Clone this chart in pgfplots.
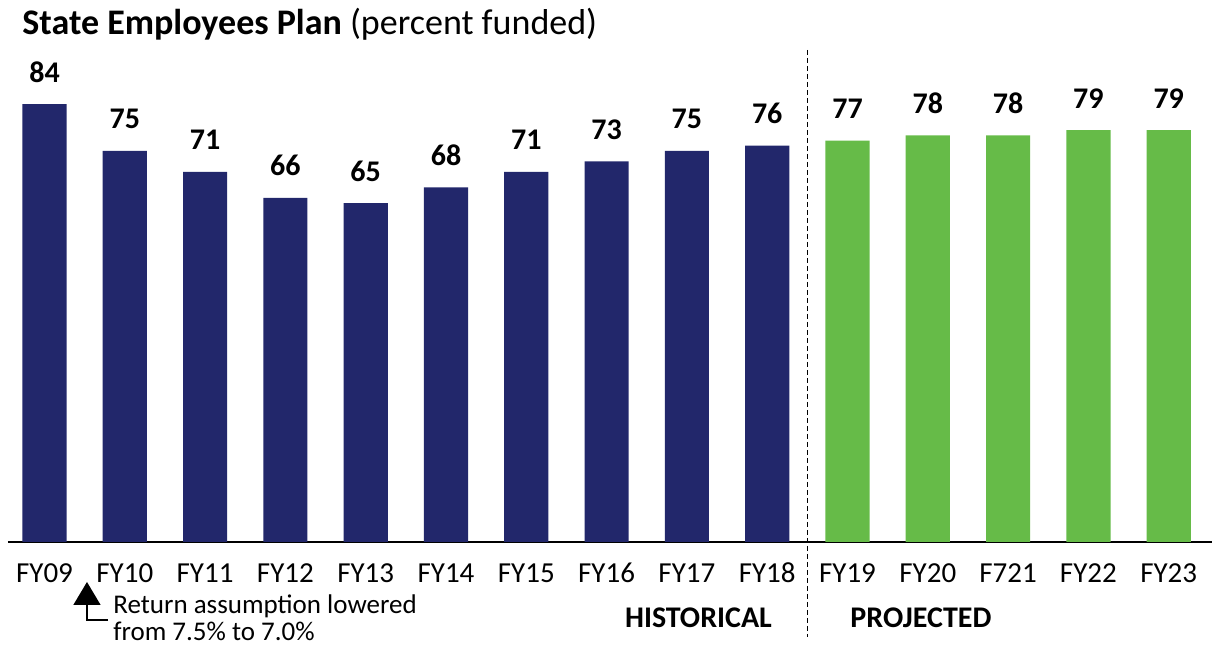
\documentclass[border=0pt]{standalone}
\usepackage{pgfplots}
\pgfplotsset{compat=1.18}
\usepackage{fontspec}
\setmainfont{Carlito}
\usetikzlibrary{arrows.meta}
\definecolor{navy}{HTML}{22276B}
\definecolor{leaf}{HTML}{66BB48}
\begin{document}
\begin{tikzpicture}
\begin{axis}[
  at={(0pt,0pt)}, anchor=south west,
  scale only axis, width=602pt, height=271pt,
  xmin=-0.4545, xmax=14.539, ymin=0, ymax=103.95,
  clip=false,
  hide y axis,
  axis x line*=bottom,
  x axis line style={line width=1pt, -},
  xtick={0,...,14},
  xticklabels={FY09,FY10,FY11,FY12,FY13,FY14,FY15,FY16,FY17,FY18,FY19,FY20,F721,FY22,FY23},
  major tick length=0pt,
  xticklabel style={font=\fontsize{14.5}{14.5}\selectfont, anchor=base, yshift=-20.5pt},
  ybar, bar width=0.55,
  nodes near coords,
  every node near coord/.append style={font=\bfseries\fontsize{15}{15}\selectfont, anchor=base, yshift=11pt, text=black},
  /pgf/number format/assume math mode=true,
]
\addplot[fill=navy, draw=none, bar shift=0pt] coordinates {(0,84) (1,75) (2,71) (3,66) (4,65) (5,68) (6,71) (7,73) (8,75) (9,76)};
\addplot[fill=leaf, draw=none, bar shift=0pt] coordinates {(10,77) (11,78) (12,78) (13,79) (14,79)};
\draw[dash pattern=on 2.5pt off 1.5pt, line width=0.8pt] (axis cs:9.5,94.4) -- (axis cs:9.5,-18.2);
\draw[line width=0.75pt, -{Triangle[length=11.5pt,width=13.5pt]}] (axis cs:0.791,-14.96) -- (axis cs:0.529,-14.96) -- (axis cs:0.529,-7.67);
\node[anchor=base west, inner sep=0, font=\fontsize{13.5}{13.5}\selectfont] at (axis cs:0.853,-13.81) {Return assumption lowered};
\node[anchor=base west, inner sep=0, font=\fontsize{13.5}{13.5}\selectfont] at (axis cs:0.853,-18.8) {from 7.5\% to 7.0\%};
\node[anchor=base, inner sep=0, font=\bfseries\fontsize{15}{15}\selectfont] at (axis cs:8.144,-16.49) {HISTORICAL};
\node[anchor=base, inner sep=0, font=\bfseries\fontsize{15}{15}\selectfont] at (axis cs:10.915,-16.49) {PROJECTED};
\end{axis}
\node[anchor=base west, inner sep=0, font=\fontsize{18}{18}\selectfont] at (7pt,253.5pt) {\textbf{State Employees Plan} (percent funded)};
\pgfresetboundingbox
\path[use as bounding box] (-4pt,-52pt) rectangle (602pt,271pt);
\end{tikzpicture}
\end{document}
